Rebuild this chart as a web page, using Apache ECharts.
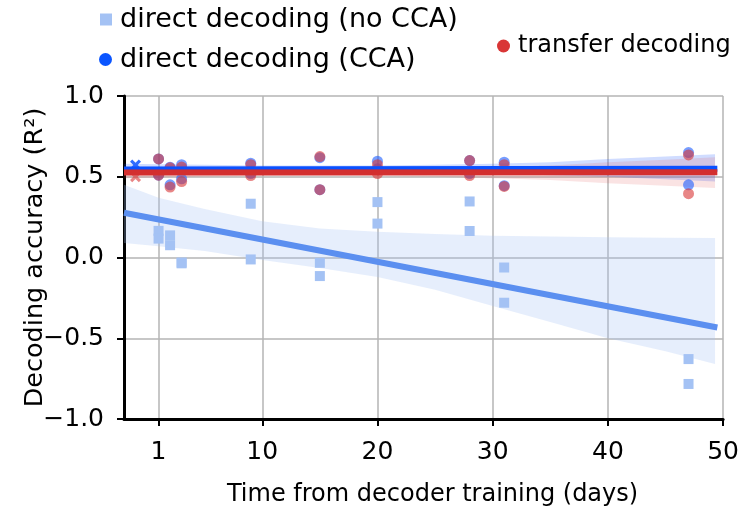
<!DOCTYPE html>
<html><head><meta charset="utf-8">
<script src="https://cdn.jsdelivr.net/npm/echarts@6/dist/echarts.min.js"></script>
<style>html,body{margin:0;padding:0;background:#fff}#c{width:742px;height:512px}</style>
</head><body><div id="c"></div>
<script>
// ---- data ----
const sessionDays = [1,1,2,2,3,3,9,9,15,15,20,20,28,28,31,31,47,47];
const noCCA     = [0.165,0.117,0.137,0.076,-0.031,-0.036,0.333,-0.012,-0.033,-0.115,0.343,0.21,0.347,0.164,-0.062,-0.28,-0.629,-0.783];
const withCCA   = [0.61,0.51,0.559,0.45,0.575,0.487,0.584,0.52,0.618,0.42,0.596,0.55,0.60,0.52,0.59,0.445,0.65,0.45];
const transfer  = [0.61,0.51,0.555,0.436,0.56,0.47,0.575,0.507,0.625,0.42,0.575,0.52,0.60,0.507,0.575,0.44,0.635,0.395];
const trainDay = [-1];
const trainCCA = [0.573];
const trainTransfer = [0.50];
// regression lines (endpoints)
const fitX = [-2, 49.5];
const fitNoCCA = [0.277, -0.433];
const fitCCA = [0.545, 0.55];
const fitTransfer = [0.526, 0.528];
// confidence bands
const bandX = [-2, 1, 5, 10, 15, 20, 25, 30, 35, 40, 45, 49.3];
const bandNoCCAHi = [0.45, 0.37, 0.30, 0.225, 0.18, 0.16, 0.145, 0.135, 0.13, 0.125, 0.123, 0.12];
const bandNoCCALo = [0.09, 0.07, 0.04, -0.015, -0.065, -0.12, -0.2, -0.3, -0.4, -0.5, -0.58, -0.66];
const bandCCAHi = [0.58, 0.578, 0.575, 0.57, 0.57, 0.57, 0.575, 0.58, 0.59, 0.61, 0.625, 0.64];
const bandCCALo = [0.52, 0.522, 0.525, 0.53, 0.53, 0.53, 0.525, 0.52, 0.51, 0.50, 0.485, 0.47];
const bandTrHi = [0.56, 0.558, 0.555, 0.55, 0.55, 0.55, 0.555, 0.56, 0.57, 0.59, 0.605, 0.62];
const bandTrLo = [0.49, 0.495, 0.50, 0.505, 0.505, 0.505, 0.50, 0.49, 0.48, 0.46, 0.445, 0.43];
const xTicks = [1, 10, 20, 30, 40, 50];
const names = ['direct decoding (no CCA)', 'direct decoding (CCA)', 'transfer decoding'];

const FONT = 'DejaVu Sans';
const zip = (a, b) => a.map((v, i) => [v, b[i]]);
function band(xs, lo, hi, color, z) {
  return {
    type: 'custom', silent: true, z: z, clip: true,
    data: [[xs[0], lo[0]]],
    renderItem: function (params, api) {
      const pts = [];
      for (let i = 0; i < xs.length; i++) pts.push(api.coord([xs[i], hi[i]]));
      for (let i = xs.length - 1; i >= 0; i--) pts.push(api.coord([xs[i], lo[i]]));
      return { type: 'polygon', shape: { points: pts }, style: { fill: color } };
    }
  };
}
const xPath = 'path://M2,0 L5,3 L8,0 L10,2 L7,5 L10,8 L8,10 L5,7 L2,10 L0,8 L3,5 L0,2 Z';
const legendText = { fontSize: 27, color: '#000', fontFamily: FONT, padding: [0, 0, 0, 3] };

const chart = echarts.init(document.getElementById('c'), null, { renderer: 'canvas' });
chart.setOption({
  animation: false,
  textStyle: { fontFamily: FONT },
  grid: { left: 124, right: 16, top: 96, bottom: 92 },
  legend: [
    { left: 95, top: 1, itemWidth: 12, itemHeight: 12, icon: 'rect', textStyle: legendText,
      data: [{ name: names[0], itemStyle: { color: '#a4c2f4', opacity: 1 } }] },
    { left: 94, top: 41, itemWidth: 13, itemHeight: 13, icon: 'circle', textStyle: legendText,
      data: [{ name: names[1], itemStyle: { color: '#0a55ff', opacity: 1 } }] },
    { left: 492, top: 29, itemWidth: 13, itemHeight: 13, icon: 'circle',
      textStyle: { fontSize: 24, color: '#000', fontFamily: FONT, padding: [0, 0, 0, 3] },
      data: [{ name: names[2], itemStyle: { color: '#d93636', opacity: 1 } }] }
  ],
  xAxis: {
    type: 'value', min: -2, max: 50,
    name: 'Time from decoder training (days)', nameLocation: 'middle', nameGap: 64,
    nameMoveOverlap: false,
    nameTextStyle: { fontSize: 24, color: '#000', fontFamily: FONT, padding: [0, 0, 0, 18] },
    axisLine: { show: true, onZero: false, lineStyle: { color: '#000', width: 3 } },
    axisTick: { show: true, length: 7, lineStyle: { color: '#000', width: 2 }, customValues: xTicks },
    axisLabel: { fontSize: 25, color: '#000', margin: 21, customValues: xTicks, formatter: v => String(v) },
    splitLine: { show: true, lineStyle: { color: '#b4b4b4', width: 1.5 } }
  },
  yAxis: {
    type: 'value', min: -1, max: 1, interval: 0.5,
    name: 'Decoding accuracy (R²)', nameLocation: 'middle', nameGap: 76,
    nameMoveOverlap: false,
    nameTextStyle: { fontSize: 25.5, color: '#000', fontFamily: FONT },
    axisLine: { show: true, onZero: false, lineStyle: { color: '#000', width: 3 } },
    axisTick: { show: true, length: 7, lineStyle: { color: '#000', width: 2 } },
    axisLabel: { fontSize: 25, color: '#000', margin: 20,
      formatter: v => (v < 0 ? '\u2212' : '') + Math.abs(v).toFixed(1) },
    splitLine: { show: true, lineStyle: { color: '#b4b4b4', width: 1.5 } }
  },
  series: [
    band(bandX, bandNoCCALo, bandNoCCAHi, 'rgba(164,194,244,0.28)', 1),
    band(bandX, bandCCALo, bandCCAHi, 'rgba(20,80,255,0.2)', 1),
    band(bandX, bandTrLo, bandTrHi, 'rgba(217,54,54,0.14)', 1),
    { name: names[0], type: 'scatter', symbol: 'rect', symbolSize: 10, z: 3,
      itemStyle: { color: '#a4c2f4', opacity: 1 }, data: zip(sessionDays, noCCA) },
    { name: names[1], type: 'scatter', symbol: 'circle', symbolSize: 11, z: 3,
      itemStyle: { color: '#1a5cff', opacity: 0.6 }, data: zip(sessionDays, withCCA) },
    { name: names[2], type: 'scatter', symbol: 'circle', symbolSize: 11, z: 3,
      itemStyle: { color: '#d93636', opacity: 0.6 }, data: zip(sessionDays, transfer) },
    { name: names[1], type: 'scatter', symbol: xPath, symbolSize: 11, z: 3,
      itemStyle: { color: '#1a5cff', opacity: 0.9 }, data: zip(trainDay, trainCCA) },
    { name: names[2], type: 'scatter', symbol: xPath, symbolSize: 11, z: 3,
      itemStyle: { color: '#d93636', opacity: 0.6 }, data: zip(trainDay, trainTransfer) },
    { type: 'line', silent: true, z: 4, symbol: 'none', data: zip(fitX, fitNoCCA),
      lineStyle: { color: '#5b8ff0', width: 6 } },
    { type: 'line', silent: true, z: 4, symbol: 'none', data: zip(fitX, fitCCA),
      lineStyle: { color: '#0a50ff', width: 6 } },
    { type: 'line', silent: true, z: 4, symbol: 'none', data: zip(fitX, fitTransfer),
      lineStyle: { color: '#d32f2f', width: 6 } }
  ]
});
</script>
</body></html>
